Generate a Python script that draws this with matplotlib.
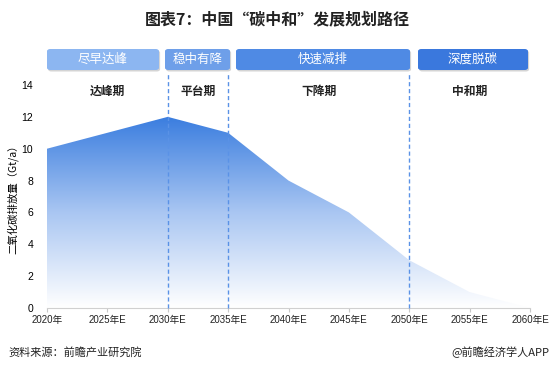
import numpy as np
import matplotlib
matplotlib.use("Agg")
import matplotlib.pyplot as plt
from matplotlib.patches import FancyBboxPatch, Polygon
from matplotlib.colors import LinearSegmentedColormap

plt.rcParams['font.family'] = ['Liberation Sans', 'Noto Sans CJK SC', 'DejaVu Sans']

# data
years = ["2020年", "2025年E", "2030年E", "2035年E", "2040年E",
         "2045年E", "2050年E", "2055年E", "2060年E"]
emissions = [10, 11, 12, 11, 8, 6, 3, 1, 0]

stage_names = ["尽早达峰", "稳中有降", "快速减排", "深度脱碳"]
phase_names = ["达峰期", "平台期", "下降期", "中和期"]
phase_bounds = [2, 3, 6]  # index of 2030, 2035, 2050

W, H = 554, 373
fig = plt.figure(figsize=(W / 100, H / 100), dpi=100)
ax = fig.add_axes([47 / W, 1 - 308 / H, (530 - 47) / W, (308 - 85) / H])

x = np.arange(len(years))
ax.set_xlim(0, 8)
ax.set_ylim(0, 14)

# gradient area
cmap = LinearSegmentedColormap.from_list("area", ["#ffffff", "#a9c6f2", "#3a7ddf"])
grad = np.linspace(0, 1, 256).reshape(-1, 1)
img = ax.imshow(grad, extent=[0, 8, 0, 12], origin="lower", aspect="auto",
                cmap=cmap, zorder=1)
verts = [(0, 0)] + list(zip(x, emissions)) + [(8, 0)]
clip = Polygon(verts, closed=True, transform=ax.transData, facecolor="none", edgecolor="none")
ax.add_patch(clip)
img.set_clip_path(clip)

# phase dividers
for b in phase_bounds:
    ax.axvline(b, ymin=0, ymax=1.05, color="#5a92e6", lw=1, ls=(0, (3, 2)),
               clip_on=False, zorder=3)

lo = [0] + phase_bounds
hi = phase_bounds + [8]
for i, name in enumerate(phase_names):
    ax.text((lo[i] + hi[i]) / 2, 13.6, name, ha="center", va="center",
            fontsize=8.5, color="#222222", family=['Noto Sans CJK SC'], weight="bold")

ax.set_xticks(x)
ax.set_xticklabels(years, fontsize=7)
ax.set_yticks(range(0, 15, 2))
ax.tick_params(axis="y", length=0, labelsize=7.5, pad=10)
ax.tick_params(axis="x", length=3, pad=2, colors="#c8c8c8", labelcolor="#222222")
for s in ["top", "right", "left"]:
    ax.spines[s].set_visible(False)
ax.spines["bottom"].set_color("#d0d0d0")
ax.set_ylabel("二氧化碳排放量（Gt/a）", fontsize=7.5, family=['Noto Sans CJK SC'],
              labelpad=2)

# stage banners (pixel positions)
boxes = [(47, 159), (165, 230), (236, 410), (418, 528)]
box_colors = ["#8cb6f1", "#6e9fe9", "#4f8ae4", "#3a78dd"]
for (x0, x1), name, c in zip(boxes, stage_names, box_colors):
    y0, y1 = 49, 70
    shadow = FancyBboxPatch((x0 / W + 0.002, 1 - (y1 + 1.5) / H), (x1 - x0) / W, (y1 - y0) / H,
                            boxstyle="round,pad=0,rounding_size=0.006",
                            transform=fig.transFigure, facecolor="#b8b8b8",
                            edgecolor="none", alpha=0.6)
    fig.patches.append(shadow)
    box = FancyBboxPatch((x0 / W, 1 - y1 / H), (x1 - x0) / W, (y1 - y0) / H,
                         boxstyle="round,pad=0,rounding_size=0.006",
                         transform=fig.transFigure, facecolor=c, edgecolor="none")
    fig.patches.append(box)
    fig.text((x0 + x1) / 2 / W, 1 - (y0 + y1) / 2 / H, name, ha="center", va="center",
             fontsize=9, color="white", family=['Noto Sans CJK SC'])

fig.text(0.5, 1 - 19 / H, "图表7：中国“碳中和”发展规划路径", ha="center", va="center",
         fontsize=11.5, weight="bold", color="#222222", family=['Noto Sans CJK SC'])
fig.text(8 / W, 1 - 352 / H, "资料来源：前瞻产业研究院", ha="left", va="center",
         fontsize=8, color="#222222", family=['Noto Sans CJK SC'])
fig.text(549 / W, 1 - 352 / H, "@前瞻经济学人APP", ha="right", va="center",
         fontsize=8, color="#222222", family=['Noto Sans CJK SC', 'Liberation Sans'])

fig.savefig("out.png", dpi=100)
